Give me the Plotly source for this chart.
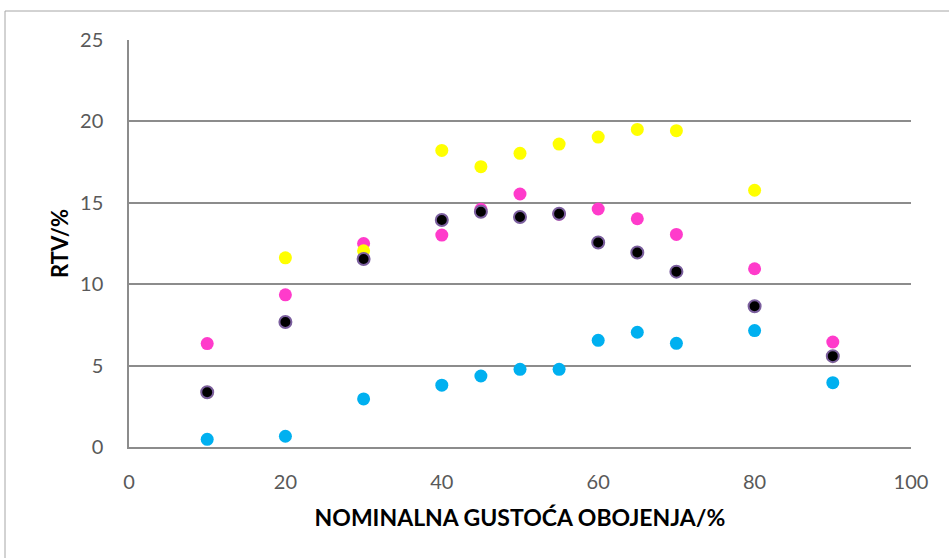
import plotly.graph_objects as go

x_vals = [10, 20, 30, 40, 45, 50, 55, 60, 65, 70, 80, 90]
cyan = [0.47, 0.66, 2.95, 3.8, 4.36, 4.77, 4.77, 6.55, 7.05, 6.37, 7.15, 3.95]
magenta = [6.35, 9.35, 12.5, 13.02, 14.6, 15.54, 14.3, 14.62, 14.02, 13.06, 10.95, 6.45]
yellow = [3.36, 11.62, 12.05, 18.22, 17.22, 18.04, 18.61, 19.04, 19.51, 19.43, 15.77, 5.58]
black = [3.36, 7.68, 11.55, 13.94, 14.45, 14.13, 14.33, 12.56, 11.95, 10.77, 8.65, 5.58]

x_ticks = [0, 20, 40, 60, 80, 100]
y_ticks = [0, 5, 10, 15, 20, 25]

series = [
    ("C", cyan, "#00B0F0", None),
    ("M", magenta, "#FF3BCB", None),
    ("Y", yellow, "#FFFF00", None),
    ("K", black, "#000000", "#7B5F9E"),
]

fig = go.Figure()
for name, vals, col, outline in series:
    fig.add_trace(go.Scatter(
        x=x_vals, y=vals, mode="markers", name=name,
        marker=dict(size=13 if outline is None else 12, color=col,
                    line=dict(color=outline if outline else col,
                              width=2 if outline else 0)),
        cliponaxis=False,
    ))

W, H = 949, 558
L, R, T, B = 129, 38, 40, 111
pw, ph = W - L - R, H - T - B

fig.update_layout(
    width=W, height=H,
    margin=dict(l=L, r=R, t=T, b=B, pad=0),
    paper_bgcolor="white", plot_bgcolor="white",
    showlegend=False,
    font=dict(family="Lato, Carlito, sans-serif", size=20, color="#595959"),
    xaxis=dict(
        range=[0, 100], tickvals=x_ticks, showgrid=False, zeroline=False,
        showline=True, linecolor="#8C8C8C", linewidth=1.5, ticks="",
        ticklabelstandoff=16,
        title=dict(text="<b>NOMINALNA GUSTOĆA OBOJENJA/%</b>",
                   font=dict(size=23, color="#000000"), standoff=18),
    ),
    yaxis=dict(
        range=[0, 25], tickvals=y_ticks, showgrid=True, gridcolor="#8C8C8C",
        gridwidth=1.5, zeroline=False, showline=True, linecolor="#8C8C8C",
        linewidth=1.5, ticks="", ticklabelstandoff=20,
        title=dict(text="<b>RTV/%</b>", font=dict(size=22, color="#000000"),
                   standoff=5),
    ),
    shapes=[dict(
        type="rect", xref="paper", yref="paper",
        x0=(5 - L) / pw, x1=1.2, y0=-0.5, y1=(H - B - 11) / ph,
        line=dict(color="#A6A6A6", width=1), fillcolor="rgba(0,0,0,0)",
        layer="below",
    )],
)

fig.write_html("out.html", config={"displayModeBar": False},
               post_script="document.body.style.margin='0';")
